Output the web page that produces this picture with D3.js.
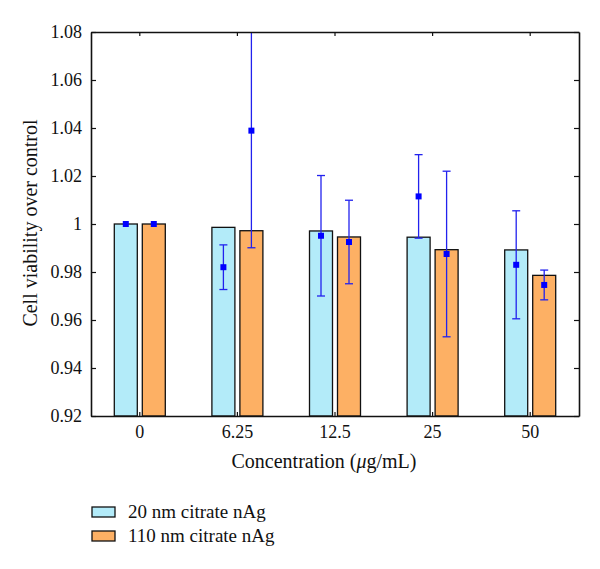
<!DOCTYPE html>
<html><head><meta charset="utf-8">
<script src="https://cdn.jsdelivr.net/npm/d3@7"></script>
</head><body style="margin:0">
<script>
const categories = ["0","6.25","12.5","25","50"];
const seriesNames = ["20 nm citrate nAg","110 nm citrate nAg"];
const barA = [1.000,0.9986,0.9971,0.9945,0.9892];
const barB = [1.000,0.9972,0.9946,0.9893,0.9786];
const meanA = [1.000,0.9820,0.9951,1.0115,0.9830];
const meanB = [1.000,1.0389,0.9925,0.9875,0.9746];
const errA = [0,0.0093,0.0251,0.0174,0.0225];
const errB = [0,0.0488,0.0174,0.0345,0.0062];
const yTicks = [0.92,0.94,0.96,0.98,1,1.02,1.04,1.06,1.08];
const colors = ["#b3ebf9","#fdb064"];

const W=600,H=569;
const L=91,R=579,T=32,B=416;
const svg=d3.select("body").append("svg").attr("width",W).attr("height",H);
function txt(sel,size){return sel.style("font-family",'"Liberation Serif"').attr("font-size",size).attr("fill","#111");}
const x=d3.scaleBand().domain(categories).range([L,R]).padding(0);
const y=d3.scaleLinear().domain([0.92,1.08]).range([B,T]);
const off=14,bw=23;
const series=[{bar:barA,mean:meanA,err:errA,c:colors[0],o:-off},{bar:barB,mean:meanB,err:errB,c:colors[1],o:off}];

// titles and legend
const xt=txt(svg.append("text").attr("x",324).attr("y",468).attr("text-anchor","middle"),20);
xt.append("tspan").text("Concentration (");
xt.append("tspan").style("font-style","italic").text("μ");
xt.append("tspan").text("g/mL)");
txt(svg.append("text").attr("transform","translate(37,223) rotate(-90)").attr("text-anchor","middle"),20).text("Cell viability over control");
seriesNames.forEach((n,i)=>{
  const ly=507+i*24;
  svg.append("rect").attr("x",92).attr("y",ly).attr("width",23).attr("height",10).attr("fill",colors[i]).attr("stroke","#111").attr("stroke-width",1.3);
  txt(svg.append("text").attr("x",128).attr("y",ly+11),19).text(n);
});

const g=svg.append("g");
series.forEach(s=>{
  categories.forEach((c,i)=>{
    const cx=x(c)+x.bandwidth()/2+s.o;
    g.append("rect").attr("x",cx-bw/2).attr("y",y(s.bar[i])).attr("width",bw).attr("height",y(0.92)-y(s.bar[i]))
      .attr("fill",s.c).attr("stroke","#111").attr("stroke-width",1.3);
  });
});
series.forEach(s=>{
  categories.forEach((c,i)=>{
    const cx=x(c)+x.bandwidth()/2+s.o;
    if(s.err[i]>0){
      const lo=s.mean[i]-s.err[i],hi=Math.min(s.mean[i]+s.err[i],y.domain()[1]);
      g.append("line").attr("x1",cx).attr("x2",cx).attr("y1",y(lo)).attr("y2",y(hi)).attr("stroke","#2222ee").attr("stroke-width",1.3);
      [lo,s.mean[i]+s.err[i]].filter(v=>v<=y.domain()[1]).forEach(v=>g.append("line").attr("x1",cx-4).attr("x2",cx+4).attr("y1",y(v)).attr("y2",y(v)).attr("stroke","#2222ee").attr("stroke-width",1.3));
    }
    g.append("rect").attr("x",cx-3).attr("y",y(s.mean[i])-3).attr("width",6).attr("height",6).attr("fill","#0000ff");
  });
});

// axes
const axL=d3.axisLeft(y).tickValues(yTicks).tickFormat(d=>d===1?"1":d3.format(".2f")(d)).tickSizeInner(-5).tickSizeOuter(0).tickPadding(9);
const axR=d3.axisRight(y).tickValues(yTicks).tickFormat("").tickSizeInner(-5).tickSizeOuter(0);
const axB=d3.axisBottom(x).tickSizeInner(-4).tickSizeOuter(0).tickPadding(9);
const axT=d3.axisTop(x).tickFormat("").tickSizeInner(-4).tickSizeOuter(0);
function style(sel){
  sel.attr("font-family",null).attr("font-size",null);
  sel.selectAll("path").attr("stroke","#111").attr("stroke-width",1.6);
  sel.selectAll("line").attr("stroke","#111").attr("stroke-width",1.2);
  txt(sel.selectAll("text"),18);}
svg.append("g").attr("transform",`translate(${L},0)`).call(axL).call(style);
svg.append("g").attr("transform",`translate(${R},0)`).call(axR).call(style);
svg.append("g").attr("transform",`translate(0,${B})`).call(axB).call(style);
svg.append("g").attr("transform",`translate(0,${T})`).call(axT).call(style);
</script>
</body></html>
